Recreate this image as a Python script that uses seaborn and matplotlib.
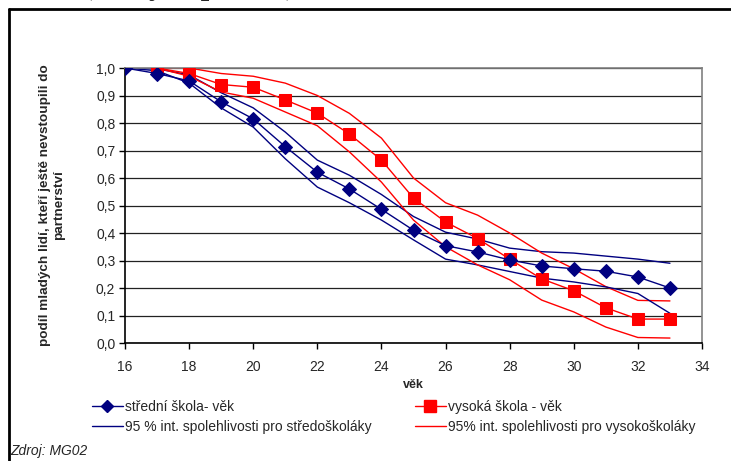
import numpy as np
import pandas as pd
import matplotlib
matplotlib.use("Agg")
import matplotlib.pyplot as plt
import seaborn as sns
from matplotlib.lines import Line2D
from matplotlib.ticker import FuncFormatter

# --- data ---
vek_ss = list(range(16, 34))
stredni = [1.0, 0.98, 0.953, 0.877, 0.815, 0.714, 0.621, 0.56, 0.486,
           0.41, 0.354, 0.331, 0.302, 0.28, 0.27, 0.261, 0.24, 0.20]
stredni_hi = [1.0, 0.997, 0.975, 0.91, 0.855, 0.767, 0.665, 0.61, 0.54,
              0.46, 0.403, 0.378, 0.345, 0.332, 0.327, 0.316, 0.305, 0.29]
stredni_lo = [1.0, 0.99, 0.945, 0.855, 0.785, 0.67, 0.567, 0.51, 0.447,
              0.375, 0.305, 0.284, 0.26, 0.236, 0.222, 0.204, 0.18, 0.108]

vek_vs = list(range(17, 34))
vysoka = [1.0, 0.98, 0.94, 0.93, 0.884, 0.836, 0.76, 0.665, 0.527,
          0.44, 0.38, 0.305, 0.233, 0.19, 0.128, 0.087, 0.087]
vysoka_hi = [1.0, 1.0, 0.98, 0.97, 0.945, 0.9, 0.835, 0.745, 0.60,
             0.51, 0.465, 0.40, 0.327, 0.27, 0.205, 0.155, 0.153]
vysoka_lo = [1.0, 0.97, 0.913, 0.89, 0.84, 0.79, 0.695, 0.585, 0.447,
             0.35, 0.284, 0.23, 0.156, 0.113, 0.058, 0.02, 0.018]

x_ticks = list(range(16, 35, 2))
y_ticks = [i / 10 for i in range(11)]

NAVY = "#000080"
RED = "#FF0000"

sns.set_style("white")
plt.rcParams["font.family"] = ["Liberation Sans", "DejaVu Sans"]

df_ss = pd.DataFrame({"vek": vek_ss, "mid": stredni, "hi": stredni_hi, "lo": stredni_lo})
df_vs = pd.DataFrame({"vek": vek_vs, "mid": vysoka, "hi": vysoka_hi, "lo": vysoka_lo})

fig = plt.figure(figsize=(7.31, 4.61), dpi=100)
ax = fig.add_axes([125 / 731, 1 - 343 / 461, 577 / 731, 275 / 461])

# confidence bands
for col in ["hi", "lo"]:
    sns.lineplot(data=df_ss, x="vek", y=col, ax=ax, color=NAVY, lw=1, zorder=2)
    sns.lineplot(data=df_vs, x="vek", y=col, ax=ax, color=RED, lw=1, zorder=2)

# main series
sns.lineplot(data=df_ss, x="vek", y="mid", ax=ax, color=NAVY, lw=1,
             marker="D", markersize=7, markeredgecolor=NAVY, zorder=4)
sns.lineplot(data=df_vs, x="vek", y="mid", ax=ax, color=RED, lw=1,
             marker="s", markersize=9, markeredgecolor=RED, zorder=3)

ax.set_xlim(16, 34)
ax.set_ylim(0, 1.0)
ax.set_xticks(x_ticks)
ax.set_yticks(y_ticks)
ax.yaxis.set_major_formatter(FuncFormatter(lambda v, p: f"{v:.1f}".replace(".", ",")))
ax.grid(axis="y", color="#222222", lw=0.9)
ax.set_axisbelow(True)
ax.tick_params(axis="both", direction="out", length=4, width=1, color="black",
               labelsize=10, pad=3, left=True, bottom=True)
ax.tick_params(axis="x", pad=8)
for s in ["left", "bottom"]:
    ax.spines[s].set_color("black")
    ax.spines[s].set_linewidth(1.2)
for s in ["right", "top"]:
    ax.spines[s].set_color("#808080")
    ax.spines[s].set_linewidth(1.2)

ax.set_xlabel("věk", fontsize=9, fontweight="bold", labelpad=4)
ax.set_ylabel("podíl mladých lidí, kteří ještě nevstoupili do\npartnerství",
              fontsize=9.7, fontweight="bold", labelpad=22, linespacing=1.25)

handles = [
    Line2D([], [], color=NAVY, lw=1, marker="D", markersize=6),
    Line2D([], [], color=NAVY, lw=1),
    Line2D([], [], color=RED, lw=1, marker="s", markersize=8),
    Line2D([], [], color=RED, lw=1),
]
labels = [
    "střední škola- věk",
    "95 % int. spolehlivosti pro středoškoláky",
    "vysoká škola - věk",
    "95% int. spolehlivosti pro vysokoškoláky",
]
fig.legend(handles, labels, ncol=2, loc="upper left",
           bbox_to_anchor=(92 / 731, 1 - 400 / 461), frameon=False,
           fontsize=10, handlelength=2.2, handletextpad=0.2,
           columnspacing=3.1, labelspacing=0.45, borderaxespad=0, borderpad=0)

fig.text(10 / 731, 1 - 451 / 461, "Zdroj: MG02", fontsize=10, style="italic",
         va="center", ha="left")

# heading, mostly cut off by the top edge as in the source
fig.text(296 / 731, 1 + 6 / 461, "vzdělání (analýza přežití)", fontsize=22,
         fontweight="bold", family=["Liberation Serif", "DejaVu Serif"],
         ha="right", va="baseline")

# chart frame (cut by the image edge)
fig.add_artist(Line2D([8.5 / 731, 8.5 / 731], [0, 1 - 9 / 461], color="black", lw=2,
                      transform=fig.transFigure))
fig.add_artist(Line2D([8.5 / 731, 1], [1 - 9 / 461, 1 - 9 / 461], color="black", lw=2,
                      transform=fig.transFigure))

fig.savefig("out.png", dpi=100)
